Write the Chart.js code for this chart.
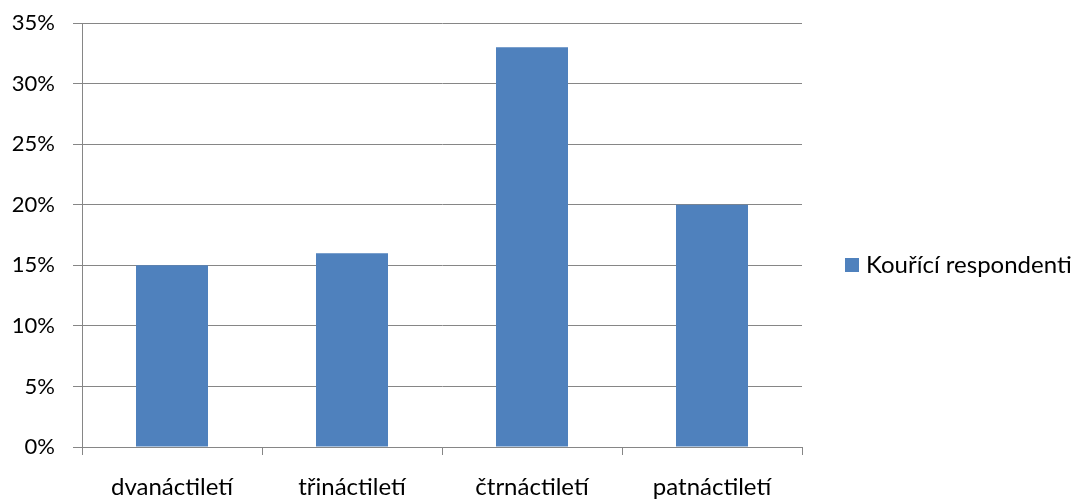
<!DOCTYPE html>
<html>
<head>
<meta charset="utf-8">
<script src="https://cdn.jsdelivr.net/npm/chart.js@4/dist/chart.umd.min.js"></script>
<style>
  html, body { margin: 0; padding: 0; background: #fff; }
  #wrap { width: 1085px; height: 499px; }
</style>
</head>
<body>
<div id="wrap"><canvas id="chart"></canvas></div>
<script>
// ---------- Data ----------
const categories = ['dvanáctiletí', 'třináctiletí', 'čtrnáctiletí', 'patnáctiletí'];
const smokers = [15, 16, 33, 20];
const seriesLabel = 'Kouřící respondenti';
const yTicks = [0, 5, 10, 15, 20, 25, 30, 35];

const FONT = 'Lato, "Open Sans", sans-serif';
const AXIS = '#868686';
const BAR = '#4f81bd';

// legend drawn by hand so the plot area stays put
const sideLegend = {
  id: 'sideLegend',
  afterDraw(chart) {
    const ctx = chart.ctx;
    const ds = chart.data.datasets[0];
    const midY = (chart.chartArea.top + chart.chartArea.bottom) / 2 + 30;
    ctx.save();
    ctx.fillStyle = ds.backgroundColor;
    ctx.fillRect(845, midY - 7, 14, 14);
    ctx.fillStyle = '#000';
    ctx.font = '24px ' + FONT;
    ctx.textBaseline = 'middle';
    ctx.textAlign = 'left';
    ctx.fillText(ds.label, 866, midY);
    ctx.restore();
  }
};

new Chart(document.getElementById('chart'), {
  type: 'bar',
  data: {
    labels: categories,
    datasets: [{
      label: seriesLabel,
      data: smokers,
      backgroundColor: BAR,
      categoryPercentage: 0.4,
      barPercentage: 1
    }]
  },
  options: {
    responsive: true,
    maintainAspectRatio: false,
    animation: false,
    layout: { padding: { top: 23, right: 283, left: 0, bottom: 0 } },
    plugins: { legend: { display: false }, tooltip: { enabled: false } },
    scales: {
      x: {
        offset: true,
        grid: { display: true, drawOnChartArea: false, color: AXIS, tickLength: 8, offset: true },
        border: { color: AXIS, width: 1 },
        ticks: { color: '#000', font: { family: FONT, size: 24 }, padding: 18, maxRotation: 0 },
        afterFit(scale) { scale.height = 52; scale.paddingLeft = 0; scale.paddingRight = 0; }
      },
      y: {
        min: 0,
        max: 35,
        afterBuildTicks(scale) { scale.ticks = yTicks.map(v => ({ value: v })); },
        grid: { color: AXIS, tickLength: 9 },
        border: { color: AXIS, width: 1 },
        ticks: {
          color: '#000',
          font: { family: FONT, size: 22 },
          padding: 18,
          callback: v => v + '%'
        },
        afterFit(scale) { scale.width = 82; scale.paddingTop = 0; scale.paddingBottom = 0; }
      }
    }
  },
  plugins: [sideLegend]
});
</script>
</body>
</html>
